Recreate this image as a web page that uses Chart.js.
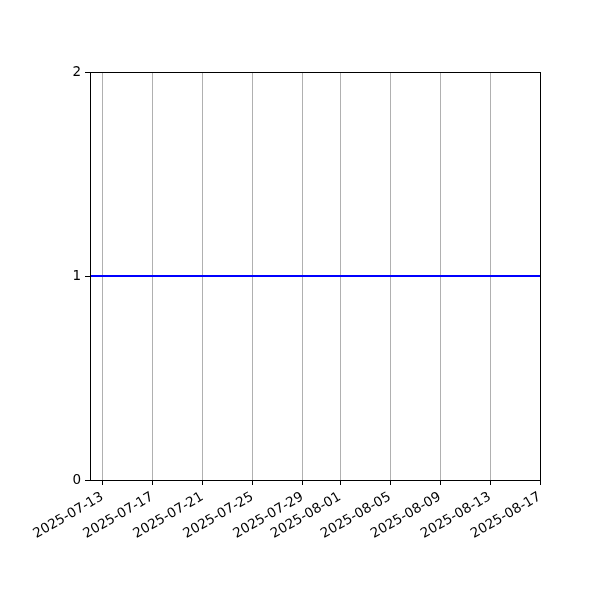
<!DOCTYPE html>
<html>
<head>
<meta charset="utf-8">
<script src="https://cdn.jsdelivr.net/npm/chart.js@4.4.0/dist/chart.umd.min.js"></script>
<style>
  html, body { margin: 0; padding: 0; background: #fff; }
  canvas { display: block; }
</style>
</head>
<body>
<canvas id="myChart" width="600" height="600"></canvas>
<script>
// data
const dates = ['2025-07-12', '2025-07-20', '2025-07-28', '2025-08-05', '2025-08-12', '2025-08-17'];
const values = [1, 1, 1, 1, 1, 1];
const xTickDates = ['2025-07-13', '2025-07-17', '2025-07-21', '2025-07-25', '2025-07-29',
    '2025-08-01', '2025-08-05', '2025-08-09', '2025-08-13', '2025-08-17'];
const xRange = ['2025-07-12', '2025-08-17'];
const yTicks = [0, 1, 2];

const toMs = s => Date.parse(s + 'T00:00:00Z');
const fmt = ms => new Date(ms).toISOString().slice(0, 10);

const frame = {
    id: 'frame',
    afterDraw(chart) {
        const a = chart.chartArea;
        const c = chart.ctx;
        c.save();
        c.strokeStyle = '#000';
        c.lineWidth = 1;
        c.strokeRect(Math.round(a.left) + 0.5, Math.round(a.top) + 0.5,
            Math.round(a.right - a.left), Math.round(a.bottom - a.top));
        c.restore();
    }
};

const ctx = document.getElementById('myChart');

const config = {
    type: 'line',
    data: {
        datasets: [{
            data: dates.map((d, i) => ({ x: toMs(d), y: values[i] })),
            borderColor: '#0000ff',
            borderWidth: 2,
            pointRadius: 0,
            tension: 0
        }]
    },
    options: {
        responsive: false,
        animation: false,
        layout: { padding: { top: 72, right: 60, left: 0, bottom: 0 } },
        scales: {
            x: {
                type: 'linear',
                min: toMs(xRange[0]),
                max: toMs(xRange[1]),
                afterBuildTicks: scale => {
                    scale.ticks = xTickDates.map(d => ({ value: toMs(d) }));
                },
                afterFit: scale => { scale.height = 120; },
                ticks: {
                    callback: v => fmt(v),
                    minRotation: 30,
                    maxRotation: 30,
                    autoSkip: false,
                    color: '#000',
                    padding: 4,
                    font: { family: 'DejaVu Sans', size: 13.5 }
                },
                grid: {
                    color: '#b0b0b0',
                    lineWidth: 1,
                    tickColor: '#000',
                    tickLength: 5
                },
                border: { display: false }
            },
            y: {
                min: 0,
                max: 2,
                afterBuildTicks: scale => {
                    scale.ticks = yTicks.map(v => ({ value: v }));
                },
                afterFit: scale => { scale.width = 90; },
                ticks: {
                    color: '#000',
                    padding: 4,
                    font: { family: 'DejaVu Sans', size: 13.5 }
                },
                grid: {
                    drawOnChartArea: false,
                    tickColor: '#000',
                    tickLength: 5
                },
                border: { display: false }
            }
        },
        plugins: {
            legend: { display: false },
            tooltip: { enabled: false }
        }
    },
    plugins: [frame]
};

const myChart = new Chart(ctx, config);
</script>
</body>
</html>
